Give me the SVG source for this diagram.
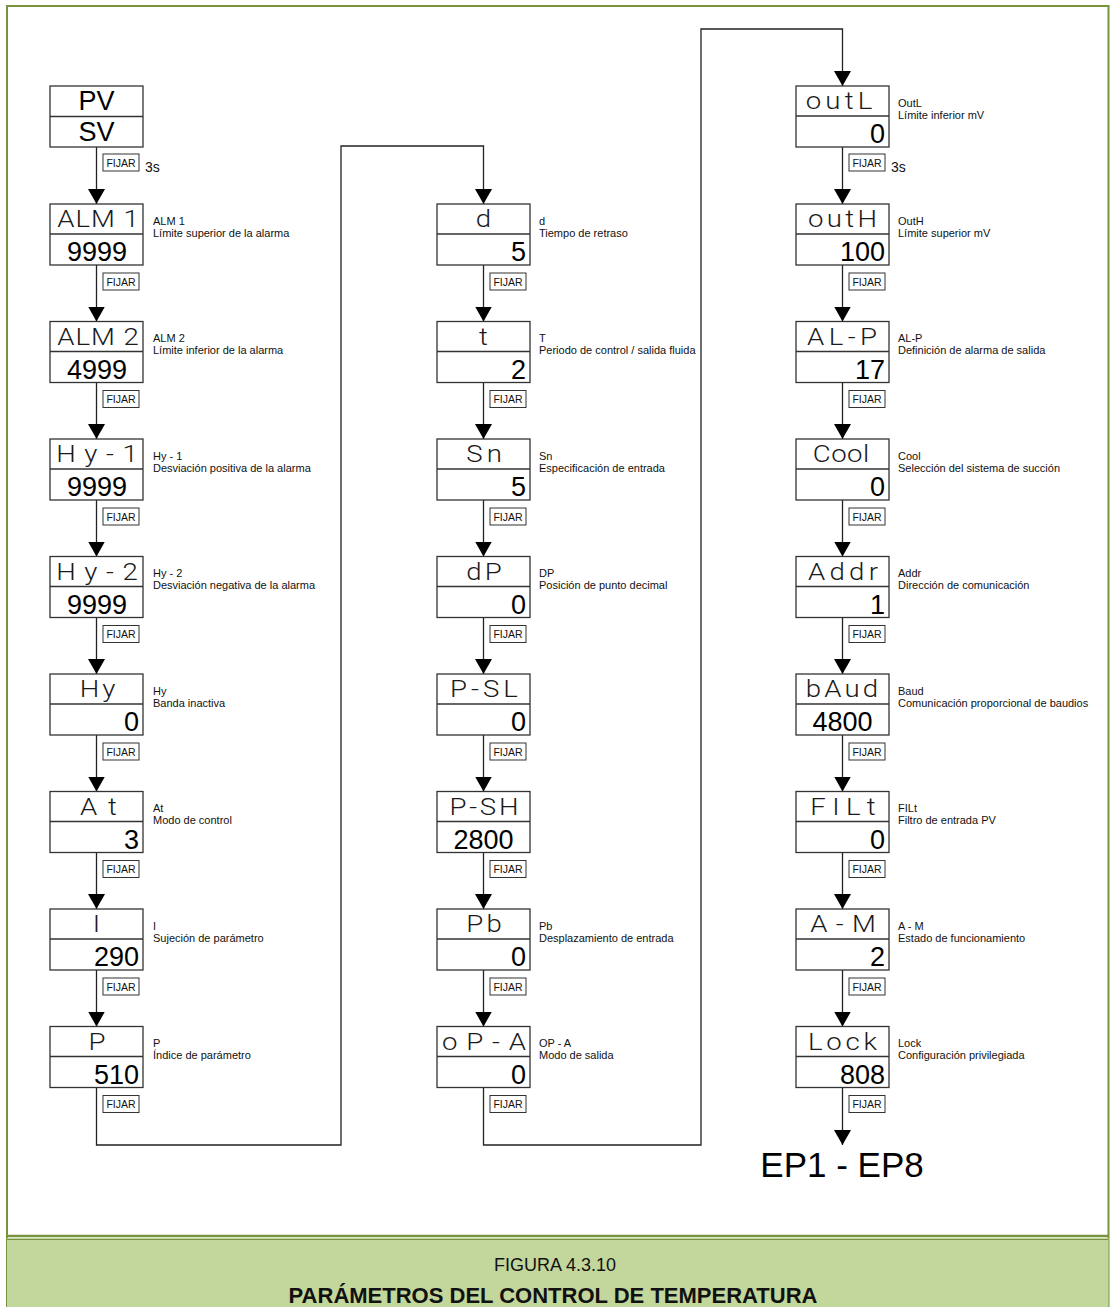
<svg xmlns="http://www.w3.org/2000/svg" width="1111" height="1307" viewBox="0 0 1111 1307">
  <defs>
    <marker id="arrow" viewBox="0 0 15 17" refX="15" refY="8.5" markerWidth="15" markerHeight="17" markerUnits="userSpaceOnUse" orient="auto">
      <path d="M0,0 L15,8.5 L0,17 z" fill="#000"/>
    </marker>
    <style>
      .box { fill: #fff; stroke: #333; stroke-width: 1.3; }
      .div { stroke: #333; stroke-width: 1.3; }
      .seg { font-family: Roboto, "Lato", "DejaVu Sans", sans-serif; font-weight: 300; font-size: 24px; fill: #1a1a1a; text-anchor: middle;
             transform-box: fill-box; transform-origin: center; transform: scaleX(1.15); }
      .val { font-family: "Liberation Sans", Arial, sans-serif; font-size: 27px; fill: #000; }
      .mid { text-anchor: middle; }
      .end { text-anchor: end; }
      .pv { font-family: "Liberation Sans", Arial, sans-serif; font-size: 27px; fill: #000; text-anchor: middle; }
      .desc { font-family: "Liberation Sans", Arial, sans-serif; font-size: 11px; fill: #111; }
      .wire { fill: none; stroke: #222; stroke-width: 1.3; }
      .key { fill: #fff; stroke: #333; stroke-width: 1; }
      .keyt { font-family: "Liberation Sans", Arial, sans-serif; font-size: 10.5px; fill: #111; text-anchor: middle; }
      .hold { font-family: "Liberation Sans", Arial, sans-serif; font-size: 14px; fill: #111; }
      .frame { fill: none; stroke: #77933c; stroke-width: 2; }
    </style>
  </defs>

  <!-- page frame and caption band -->
  <rect x="0" y="0" width="1111" height="1307" fill="#fff"/>
  <rect class="frame" x="7" y="6" width="1101.5" height="1310"/>
  <rect x="7" y="1238" width="1101.5" height="69" fill="#c3d69b"/>
  <line x1="7" y1="1236" x2="1108.5" y2="1236" stroke="#77933c" stroke-width="2.5"/>
  <line x1="7" y1="1239.5" x2="1108.5" y2="1239.5" stroke="#77933c" stroke-width="1"/>
  <text x="555" y="1271" font-family="'Liberation Sans', Arial, sans-serif" font-size="18" fill="#111" text-anchor="middle">FIGURA 4.3.10</text>
  <text x="553" y="1303" font-family="'Liberation Sans', Arial, sans-serif" font-size="22" font-weight="bold" fill="#111" text-anchor="middle">PARÁMETROS DEL CONTROL DE TEMPERATURA</text>

  <!-- connectors -->
  <g id="connectors">
    <!-- column 1 -->
    <line class="wire" x1="96.5" y1="147" x2="96.5" y2="204" marker-end="url(#arrow)"/>
    <line class="wire" x1="96.5" y1="265" x2="96.5" y2="321.5" marker-end="url(#arrow)"/>
    <line class="wire" x1="96.5" y1="382.5" x2="96.5" y2="439" marker-end="url(#arrow)"/>
    <line class="wire" x1="96.5" y1="500" x2="96.5" y2="556.5" marker-end="url(#arrow)"/>
    <line class="wire" x1="96.5" y1="617.5" x2="96.5" y2="674" marker-end="url(#arrow)"/>
    <line class="wire" x1="96.5" y1="735" x2="96.5" y2="791.5" marker-end="url(#arrow)"/>
    <line class="wire" x1="96.5" y1="852.5" x2="96.5" y2="909" marker-end="url(#arrow)"/>
    <line class="wire" x1="96.5" y1="970" x2="96.5" y2="1026.5" marker-end="url(#arrow)"/>
    <path class="wire" d="M96.5,1087.5 V1145 H341 V146 H483.5 V204" marker-end="url(#arrow)"/>
    <!-- column 2 -->
    <line class="wire" x1="483.5" y1="265" x2="483.5" y2="321.5" marker-end="url(#arrow)"/>
    <line class="wire" x1="483.5" y1="382.5" x2="483.5" y2="439" marker-end="url(#arrow)"/>
    <line class="wire" x1="483.5" y1="500" x2="483.5" y2="556.5" marker-end="url(#arrow)"/>
    <line class="wire" x1="483.5" y1="617.5" x2="483.5" y2="674" marker-end="url(#arrow)"/>
    <line class="wire" x1="483.5" y1="735" x2="483.5" y2="791.5" marker-end="url(#arrow)"/>
    <line class="wire" x1="483.5" y1="852.5" x2="483.5" y2="909" marker-end="url(#arrow)"/>
    <line class="wire" x1="483.5" y1="970" x2="483.5" y2="1026.5" marker-end="url(#arrow)"/>
    <path class="wire" d="M483.5,1087.5 V1145 H701 V29 H842.5 V86" marker-end="url(#arrow)"/>
    <!-- column 3 -->
    <line class="wire" x1="842.5" y1="147" x2="842.5" y2="204" marker-end="url(#arrow)"/>
    <line class="wire" x1="842.5" y1="265" x2="842.5" y2="321.5" marker-end="url(#arrow)"/>
    <line class="wire" x1="842.5" y1="382.5" x2="842.5" y2="439" marker-end="url(#arrow)"/>
    <line class="wire" x1="842.5" y1="500" x2="842.5" y2="556.5" marker-end="url(#arrow)"/>
    <line class="wire" x1="842.5" y1="617.5" x2="842.5" y2="674" marker-end="url(#arrow)"/>
    <line class="wire" x1="842.5" y1="735" x2="842.5" y2="791.5" marker-end="url(#arrow)"/>
    <line class="wire" x1="842.5" y1="852.5" x2="842.5" y2="909" marker-end="url(#arrow)"/>
    <line class="wire" x1="842.5" y1="970" x2="842.5" y2="1026.5" marker-end="url(#arrow)"/>
    <line class="wire" x1="842.5" y1="1087.5" x2="842.5" y2="1145" marker-end="url(#arrow)"/>

    <!-- FIJAR key labels, column 1 -->
    <g>
      <rect class="key" x="103" y="154" width="36" height="17"/><text class="keyt" x="121" y="166.5">FIJAR</text>
      <text class="hold" x="145" y="172">3s</text>
      <rect class="key" x="103" y="273" width="36" height="17"/><text class="keyt" x="121" y="285.5">FIJAR</text>
      <rect class="key" x="103" y="390.5" width="36" height="17"/><text class="keyt" x="121" y="403">FIJAR</text>
      <rect class="key" x="103" y="508" width="36" height="17"/><text class="keyt" x="121" y="520.5">FIJAR</text>
      <rect class="key" x="103" y="625.5" width="36" height="17"/><text class="keyt" x="121" y="638">FIJAR</text>
      <rect class="key" x="103" y="743" width="36" height="17"/><text class="keyt" x="121" y="755.5">FIJAR</text>
      <rect class="key" x="103" y="860.5" width="36" height="17"/><text class="keyt" x="121" y="873">FIJAR</text>
      <rect class="key" x="103" y="978" width="36" height="17"/><text class="keyt" x="121" y="990.5">FIJAR</text>
      <rect class="key" x="103" y="1095.5" width="36" height="17"/><text class="keyt" x="121" y="1108">FIJAR</text>
    </g>
    <!-- FIJAR key labels, column 2 -->
    <g>
      <rect class="key" x="490" y="273" width="36" height="17"/><text class="keyt" x="508" y="285.5">FIJAR</text>
      <rect class="key" x="490" y="390.5" width="36" height="17"/><text class="keyt" x="508" y="403">FIJAR</text>
      <rect class="key" x="490" y="508" width="36" height="17"/><text class="keyt" x="508" y="520.5">FIJAR</text>
      <rect class="key" x="490" y="625.5" width="36" height="17"/><text class="keyt" x="508" y="638">FIJAR</text>
      <rect class="key" x="490" y="743" width="36" height="17"/><text class="keyt" x="508" y="755.5">FIJAR</text>
      <rect class="key" x="490" y="860.5" width="36" height="17"/><text class="keyt" x="508" y="873">FIJAR</text>
      <rect class="key" x="490" y="978" width="36" height="17"/><text class="keyt" x="508" y="990.5">FIJAR</text>
      <rect class="key" x="490" y="1095.5" width="36" height="17"/><text class="keyt" x="508" y="1108">FIJAR</text>
    </g>
    <!-- FIJAR key labels, column 3 -->
    <g>
      <rect class="key" x="849" y="154" width="36" height="17"/><text class="keyt" x="867" y="166.5">FIJAR</text>
      <text class="hold" x="891" y="172">3s</text>
      <rect class="key" x="849" y="273" width="36" height="17"/><text class="keyt" x="867" y="285.5">FIJAR</text>
      <rect class="key" x="849" y="390.5" width="36" height="17"/><text class="keyt" x="867" y="403">FIJAR</text>
      <rect class="key" x="849" y="508" width="36" height="17"/><text class="keyt" x="867" y="520.5">FIJAR</text>
      <rect class="key" x="849" y="625.5" width="36" height="17"/><text class="keyt" x="867" y="638">FIJAR</text>
      <rect class="key" x="849" y="743" width="36" height="17"/><text class="keyt" x="867" y="755.5">FIJAR</text>
      <rect class="key" x="849" y="860.5" width="36" height="17"/><text class="keyt" x="867" y="873">FIJAR</text>
      <rect class="key" x="849" y="978" width="36" height="17"/><text class="keyt" x="867" y="990.5">FIJAR</text>
      <rect class="key" x="849" y="1095.5" width="36" height="17"/><text class="keyt" x="867" y="1108">FIJAR</text>
    </g>
  </g>

  <!-- column 1 nodes -->
  <g id="n-pvsv">
    <rect class="box" x="50" y="86" width="93" height="61"/>
    <line class="div" x1="50" y1="116.5" x2="143" y2="116.5"/>
    <text class="pv" x="96.5" y="110">PV</text>
    <text class="pv" x="96.5" y="140.5">SV</text>
  </g>
  <g id="n-alm1">
    <rect class="box" x="50" y="204" width="93" height="61"/>
    <line class="div" x1="50" y1="234" x2="143" y2="234"/>
    <text class="seg" x="98" y="227.5" textLength="71" lengthAdjust="spacing">ALM 1</text>
    <text class="val mid" x="97" y="261">9999</text>
    <text class="desc" x="153" y="224.5">ALM 1</text>
    <text class="desc" x="153" y="236.5">Límite superior de la alarma</text>
  </g>
  <g id="n-alm2">
    <rect class="box" x="50" y="321.5" width="93" height="61"/>
    <line class="div" x1="50" y1="351.5" x2="143" y2="351.5"/>
    <text class="seg" x="98" y="345" textLength="71" lengthAdjust="spacing">ALM 2</text>
    <text class="val mid" x="97" y="378.5">4999</text>
    <text class="desc" x="153" y="342">ALM 2</text>
    <text class="desc" x="153" y="354">Límite inferior de la alarma</text>
  </g>
  <g id="n-hy1">
    <rect class="box" x="50" y="439" width="93" height="61"/>
    <line class="div" x1="50" y1="469" x2="143" y2="469"/>
    <text class="seg" x="97" y="462.5" textLength="71" lengthAdjust="spacing">Hy-1</text>
    <text class="val mid" x="97" y="496">9999</text>
    <text class="desc" x="153" y="459.5">Hy - 1</text>
    <text class="desc" x="153" y="471.5">Desviación positiva de la alarma</text>
  </g>
  <g id="n-hy2">
    <rect class="box" x="50" y="556.5" width="93" height="61"/>
    <line class="div" x1="50" y1="586.5" x2="143" y2="586.5"/>
    <text class="seg" x="97" y="580" textLength="71" lengthAdjust="spacing">Hy-2</text>
    <text class="val mid" x="97" y="613.5">9999</text>
    <text class="desc" x="153" y="577">Hy - 2</text>
    <text class="desc" x="153" y="589">Desviación negativa de la alarma</text>
  </g>
  <g id="n-hy">
    <rect class="box" x="50" y="674" width="93" height="61"/>
    <line class="div" x1="50" y1="704" x2="143" y2="704"/>
    <text class="seg" x="97.5" y="697.5" textLength="31" lengthAdjust="spacing">Hy</text>
    <text class="val end" x="139" y="731">0</text>
    <text class="desc" x="153" y="694.5">Hy</text>
    <text class="desc" x="153" y="706.5">Banda inactiva</text>
  </g>
  <g id="n-at">
    <rect class="box" x="50" y="791.5" width="93" height="61"/>
    <line class="div" x1="50" y1="821.5" x2="143" y2="821.5"/>
    <text class="seg" x="98.5" y="815" textLength="32" lengthAdjust="spacing">At</text>
    <text class="val end" x="139" y="848.5">3</text>
    <text class="desc" x="153" y="812">At</text>
    <text class="desc" x="153" y="824">Modo de control</text>
  </g>
  <g id="n-i">
    <rect class="box" x="50" y="909" width="93" height="61"/>
    <line class="div" x1="50" y1="939" x2="143" y2="939"/>
    <text class="seg" x="96.5" y="932.5">I</text>
    <text class="val end" x="139" y="966">290</text>
    <text class="desc" x="153" y="929.5">I</text>
    <text class="desc" x="153" y="941.5">Sujeción de parámetro</text>
  </g>
  <g id="n-p">
    <rect class="box" x="50" y="1026.5" width="93" height="61"/>
    <line class="div" x1="50" y1="1056.5" x2="143" y2="1056.5"/>
    <text class="seg" x="97" y="1050">P</text>
    <text class="val end" x="139" y="1083.5">510</text>
    <text class="desc" x="153" y="1047">P</text>
    <text class="desc" x="153" y="1059">Índice de parámetro</text>
  </g>

  <!-- column 2 nodes -->
  <g id="n-d">
    <rect class="box" x="437" y="204" width="93" height="61"/>
    <line class="div" x1="437" y1="234" x2="530" y2="234"/>
    <text class="seg" x="483.5" y="227.5">d</text>
    <text class="val end" x="526" y="261">5</text>
    <text class="desc" x="539" y="224.5">d</text>
    <text class="desc" x="539" y="236.5">Tiempo de retraso</text>
  </g>
  <g id="n-t">
    <rect class="box" x="437" y="321.5" width="93" height="61"/>
    <line class="div" x1="437" y1="351.5" x2="530" y2="351.5"/>
    <text class="seg" x="483.5" y="345">t</text>
    <text class="val end" x="526" y="378.5">2</text>
    <text class="desc" x="539" y="342">T</text>
    <text class="desc" x="539" y="354">Periodo de control / salida fluida</text>
  </g>
  <g id="n-sn">
    <rect class="box" x="437" y="439" width="93" height="61"/>
    <line class="div" x1="437" y1="469" x2="530" y2="469"/>
    <text class="seg" x="484" y="462.5" textLength="31" lengthAdjust="spacing">Sn</text>
    <text class="val end" x="526" y="496">5</text>
    <text class="desc" x="539" y="459.5">Sn</text>
    <text class="desc" x="539" y="471.5">Especificación de entrada</text>
  </g>
  <g id="n-dp">
    <rect class="box" x="437" y="556.5" width="93" height="61"/>
    <line class="div" x1="437" y1="586.5" x2="530" y2="586.5"/>
    <text class="seg" x="484" y="580" textLength="31" lengthAdjust="spacing">dP</text>
    <text class="val end" x="526" y="613.5">0</text>
    <text class="desc" x="539" y="577">DP</text>
    <text class="desc" x="539" y="589">Posición de punto decimal</text>
  </g>
  <g id="n-psl">
    <rect class="box" x="437" y="674" width="93" height="61"/>
    <line class="div" x1="437" y1="704" x2="530" y2="704"/>
    <text class="seg" x="484" y="697.5" textLength="59" lengthAdjust="spacing">P-SL</text>
    <text class="val end" x="526" y="731">0</text>
  </g>
  <g id="n-psh">
    <rect class="box" x="437" y="791.5" width="93" height="61"/>
    <line class="div" x1="437" y1="821.5" x2="530" y2="821.5"/>
    <text class="seg" x="484" y="815" textLength="60" lengthAdjust="spacing">P-SH</text>
    <text class="val mid" x="483.5" y="848.5">2800</text>
  </g>
  <g id="n-pb">
    <rect class="box" x="437" y="909" width="93" height="61"/>
    <line class="div" x1="437" y1="939" x2="530" y2="939"/>
    <text class="seg" x="484" y="932.5" textLength="31" lengthAdjust="spacing">Pb</text>
    <text class="val end" x="526" y="966">0</text>
    <text class="desc" x="539" y="929.5">Pb</text>
    <text class="desc" x="539" y="941.5">Desplazamiento de entrada</text>
  </g>
  <g id="n-opa">
    <rect class="box" x="437" y="1026.5" width="93" height="61"/>
    <line class="div" x1="437" y1="1056.5" x2="530" y2="1056.5"/>
    <text class="seg" x="484" y="1050" textLength="73" lengthAdjust="spacing">oP-A</text>
    <text class="val end" x="526" y="1083.5">0</text>
    <text class="desc" x="539" y="1047">OP - A</text>
    <text class="desc" x="539" y="1059">Modo de salida</text>
  </g>

  <!-- column 3 nodes -->
  <g id="n-outl">
    <rect class="box" x="796" y="86" width="93" height="61"/>
    <line class="div" x1="796" y1="116" x2="889" y2="116"/>
    <text class="seg" x="839" y="109.5" textLength="58" lengthAdjust="spacing">outL</text>
    <text class="val end" x="885" y="143">0</text>
    <text class="desc" x="898" y="106.5">OutL</text>
    <text class="desc" x="898" y="118.5">Límite inferior mV</text>
  </g>
  <g id="n-outh">
    <rect class="box" x="796" y="204" width="93" height="61"/>
    <line class="div" x1="796" y1="234" x2="889" y2="234"/>
    <text class="seg" x="842.5" y="227.5" textLength="60" lengthAdjust="spacing">outH</text>
    <text class="val end" x="885" y="261">100</text>
    <text class="desc" x="898" y="224.5">OutH</text>
    <text class="desc" x="898" y="236.5">Límite superior mV</text>
  </g>
  <g id="n-alp">
    <rect class="box" x="796" y="321.5" width="93" height="61"/>
    <line class="div" x1="796" y1="351.5" x2="889" y2="351.5"/>
    <text class="seg" x="842" y="345" textLength="61" lengthAdjust="spacing">AL-P</text>
    <text class="val end" x="885" y="378.5">17</text>
    <text class="desc" x="898" y="342">AL-P</text>
    <text class="desc" x="898" y="354">Definición de alarma de salida</text>
  </g>
  <g id="n-cool">
    <rect class="box" x="796" y="439" width="93" height="61"/>
    <line class="div" x1="796" y1="469" x2="889" y2="469"/>
    <text class="seg" x="841" y="462.5" textLength="49" lengthAdjust="spacing">Cool</text>
    <text class="val end" x="885" y="496">0</text>
    <text class="desc" x="898" y="459.5">Cool</text>
    <text class="desc" x="898" y="471.5">Selección del sistema de succión</text>
  </g>
  <g id="n-addr">
    <rect class="box" x="796" y="556.5" width="93" height="61"/>
    <line class="div" x1="796" y1="586.5" x2="889" y2="586.5"/>
    <text class="seg" x="843" y="580" textLength="61" lengthAdjust="spacing">Addr</text>
    <text class="val end" x="885" y="613.5">1</text>
    <text class="desc" x="898" y="577">Addr</text>
    <text class="desc" x="898" y="589">Dirección de comunicación</text>
  </g>
  <g id="n-baud">
    <rect class="box" x="796" y="674" width="93" height="61"/>
    <line class="div" x1="796" y1="704" x2="889" y2="704"/>
    <text class="seg" x="842" y="697.5" textLength="63" lengthAdjust="spacing">bAud</text>
    <text class="val mid" x="842.5" y="731">4800</text>
    <text class="desc" x="898" y="694.5">Baud</text>
    <text class="desc" x="898" y="706.5">Comunicación proporcional de baudios</text>
  </g>
  <g id="n-filt">
    <rect class="box" x="796" y="791.5" width="93" height="61"/>
    <line class="div" x1="796" y1="821.5" x2="889" y2="821.5"/>
    <text class="seg" x="843" y="815" textLength="57" lengthAdjust="spacing">FILt</text>
    <text class="val end" x="885" y="848.5">0</text>
    <text class="desc" x="898" y="812">FILt</text>
    <text class="desc" x="898" y="824">Filtro de entrada PV</text>
  </g>
  <g id="n-am">
    <rect class="box" x="796" y="909" width="93" height="61"/>
    <line class="div" x1="796" y1="939" x2="889" y2="939"/>
    <text class="seg" x="843" y="932.5" textLength="57" lengthAdjust="spacing">A-M</text>
    <text class="val end" x="885" y="966">2</text>
    <text class="desc" x="898" y="929.5">A - M</text>
    <text class="desc" x="898" y="941.5">Estado de funcionamiento</text>
  </g>
  <g id="n-lock">
    <rect class="box" x="796" y="1026.5" width="93" height="61"/>
    <line class="div" x1="796" y1="1056.5" x2="889" y2="1056.5"/>
    <text class="seg" x="842.5" y="1050" textLength="60" lengthAdjust="spacing">Lock</text>
    <text class="val end" x="885" y="1083.5">808</text>
    <text class="desc" x="898" y="1047">Lock</text>
    <text class="desc" x="898" y="1059">Configuración privilegiada</text>
  </g>

  <g id="n-ep">
    <text x="842" y="1177" font-family="'Liberation Sans', Arial, sans-serif" font-size="35" fill="#000" text-anchor="middle">EP1 - EP8</text>
  </g>
</svg>
